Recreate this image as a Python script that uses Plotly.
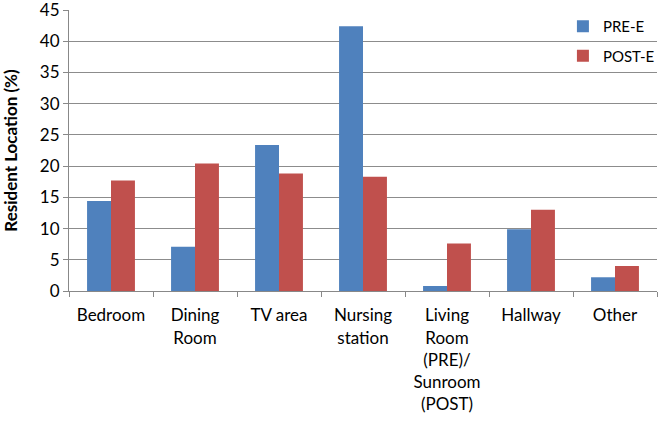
import plotly.graph_objects as go

categories = ["Bedroom", "Dining<br>Room", "TV area", "Nursing<br>station",
              "Living<br>Room<br>(PRE)/<br>Sunroom<br>(POST)", "Hallway", "Other"]
pre_e = [14.4, 7.1, 23.4, 42.4, 0.8, 9.9, 2.2]
post_e = [17.7, 20.4, 18.8, 18.3, 7.6, 13.0, 4.0]
y_ticks = [0, 5, 10, 15, 20, 25, 30, 35, 40, 45]

FONT = "Lato"

fig = go.Figure()
fig.add_bar(x=categories, y=pre_e, name="PRE-E", legendgroup="pre",
            marker=dict(color="#4F81BD", line=dict(width=0)))
fig.add_bar(x=categories, y=post_e, name="POST-E", legendgroup="post",
            marker=dict(color="#C0504D", line=dict(width=0)))

fig.update_layout(
    template="none",
    width=658, height=421,
    margin=dict(l=69, r=1, t=10, b=130, autoexpand=False),
    paper_bgcolor="white", plot_bgcolor="white",
    barmode="group", bargap=0.43, bargroupgap=0,
    font=dict(family=FONT, size=17, color="#000000"),
    showlegend=True,
    legend=dict(x=0.84, y=1.0, xanchor="left", yanchor="top",
                font=dict(family=FONT, size=15), bgcolor="rgba(0,0,0,0)",
                itemwidth=30, tracegroupgap=7, traceorder="grouped"),
)
fig.update_xaxes(
    type="category", tickson="boundaries", ticks="outside", ticklen=5,
    tickcolor="#888888", showline=True, linecolor="#888888", linewidth=1,
    showgrid=False, tickfont=dict(family=FONT, size=17), tickangle=0, automargin=False,
    ticklabelstandoff=9,
)
fig.update_yaxes(
    range=[0, max(y_ticks)], tickmode="array", tickvals=y_ticks, ticks="outside", ticklen=5,
    tickcolor="#888888", showline=True, linecolor="#888888", linewidth=1,
    showgrid=True, gridcolor="#8c8c8c", gridwidth=1, zeroline=False, automargin=False,
    tickfont=dict(family=FONT, size=17), ticklabeloverflow="allow",
    title=dict(text="<b>Resident Location (%)</b>", font=dict(family=FONT, size=17), standoff=17),
)

fig.write_html("out.html", config={"displayModeBar": False},
               post_script="document.body.style.margin='0';")
